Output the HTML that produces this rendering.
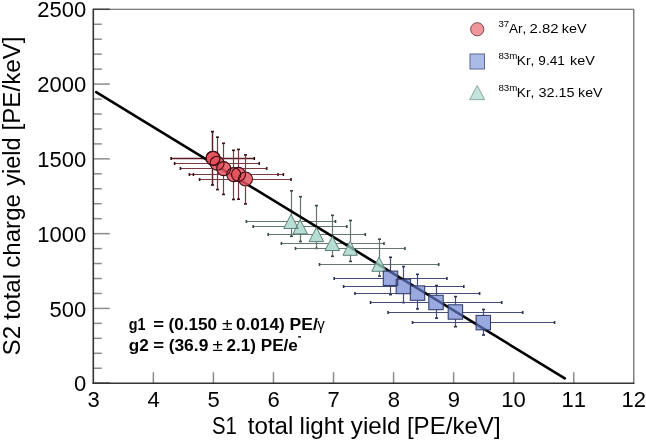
<!DOCTYPE html>
<html><head><meta charset="utf-8"><style>
html,body{margin:0;padding:0;background:#fff;}
svg{display:block;font-family:"Liberation Sans", sans-serif;font-kerning:none;filter:blur(0.4px);}
</style></head><body>
<svg width="646" height="441" viewBox="0 0 646 441" fill="#000">
<rect width="646" height="441" fill="#fff"/>
<line x1="93.3" y1="9.3" x2="633.8" y2="9.3" stroke="#555" stroke-width="1.1"/>
<line x1="633.8" y1="9.3" x2="633.8" y2="383.2" stroke="#555" stroke-width="1.1"/>
<line x1="93.3" y1="383.20" x2="109.8" y2="383.20" stroke="#444" stroke-width="1.5"/>
<line x1="93.3" y1="368.24" x2="101.8" y2="368.24" stroke="#8c8c8c" stroke-width="1.5"/>
<line x1="93.3" y1="353.29" x2="101.8" y2="353.29" stroke="#8c8c8c" stroke-width="1.5"/>
<line x1="93.3" y1="338.33" x2="101.8" y2="338.33" stroke="#8c8c8c" stroke-width="1.5"/>
<line x1="93.3" y1="323.38" x2="101.8" y2="323.38" stroke="#8c8c8c" stroke-width="1.5"/>
<line x1="93.3" y1="308.42" x2="109.8" y2="308.42" stroke="#8c8c8c" stroke-width="1.5"/>
<line x1="93.3" y1="293.46" x2="101.8" y2="293.46" stroke="#8c8c8c" stroke-width="1.5"/>
<line x1="93.3" y1="278.51" x2="101.8" y2="278.51" stroke="#8c8c8c" stroke-width="1.5"/>
<line x1="93.3" y1="263.55" x2="101.8" y2="263.55" stroke="#8c8c8c" stroke-width="1.5"/>
<line x1="93.3" y1="248.60" x2="101.8" y2="248.60" stroke="#8c8c8c" stroke-width="1.5"/>
<line x1="93.3" y1="233.64" x2="109.8" y2="233.64" stroke="#8c8c8c" stroke-width="1.5"/>
<line x1="93.3" y1="218.68" x2="101.8" y2="218.68" stroke="#8c8c8c" stroke-width="1.5"/>
<line x1="93.3" y1="203.73" x2="101.8" y2="203.73" stroke="#8c8c8c" stroke-width="1.5"/>
<line x1="93.3" y1="188.77" x2="101.8" y2="188.77" stroke="#8c8c8c" stroke-width="1.5"/>
<line x1="93.3" y1="173.82" x2="101.8" y2="173.82" stroke="#8c8c8c" stroke-width="1.5"/>
<line x1="93.3" y1="158.86" x2="109.8" y2="158.86" stroke="#8c8c8c" stroke-width="1.5"/>
<line x1="93.3" y1="143.90" x2="101.8" y2="143.90" stroke="#8c8c8c" stroke-width="1.5"/>
<line x1="93.3" y1="128.95" x2="101.8" y2="128.95" stroke="#8c8c8c" stroke-width="1.5"/>
<line x1="93.3" y1="113.99" x2="101.8" y2="113.99" stroke="#8c8c8c" stroke-width="1.5"/>
<line x1="93.3" y1="99.04" x2="101.8" y2="99.04" stroke="#8c8c8c" stroke-width="1.5"/>
<line x1="93.3" y1="84.08" x2="109.8" y2="84.08" stroke="#8c8c8c" stroke-width="1.5"/>
<line x1="93.3" y1="69.12" x2="101.8" y2="69.12" stroke="#8c8c8c" stroke-width="1.5"/>
<line x1="93.3" y1="54.17" x2="101.8" y2="54.17" stroke="#8c8c8c" stroke-width="1.5"/>
<line x1="93.3" y1="39.21" x2="101.8" y2="39.21" stroke="#8c8c8c" stroke-width="1.5"/>
<line x1="93.3" y1="24.26" x2="101.8" y2="24.26" stroke="#8c8c8c" stroke-width="1.5"/>
<line x1="93.3" y1="9.30" x2="109.8" y2="9.30" stroke="#444" stroke-width="1.5"/>
<line x1="153.36" y1="383.2" x2="153.36" y2="372.2" stroke="#8c8c8c" stroke-width="1.5"/>
<line x1="213.41" y1="383.2" x2="213.41" y2="372.2" stroke="#8c8c8c" stroke-width="1.5"/>
<line x1="273.47" y1="383.2" x2="273.47" y2="372.2" stroke="#8c8c8c" stroke-width="1.5"/>
<line x1="333.52" y1="383.2" x2="333.52" y2="372.2" stroke="#8c8c8c" stroke-width="1.5"/>
<line x1="393.58" y1="383.2" x2="393.58" y2="372.2" stroke="#8c8c8c" stroke-width="1.5"/>
<line x1="453.63" y1="383.2" x2="453.63" y2="372.2" stroke="#8c8c8c" stroke-width="1.5"/>
<line x1="513.69" y1="383.2" x2="513.69" y2="372.2" stroke="#8c8c8c" stroke-width="1.5"/>
<line x1="573.74" y1="383.2" x2="573.74" y2="372.2" stroke="#8c8c8c" stroke-width="1.5"/>
<line x1="93.3" y1="8.700000000000001" x2="93.3" y2="383.8" stroke="#333" stroke-width="1.6"/>
<line x1="92.5" y1="383.2" x2="634.4" y2="383.2" stroke="#333" stroke-width="1.6"/>
<text x="74.02" y="391.30" font-size="22">0</text>
<text x="49.55" y="316.52" font-size="22">500</text>
<text x="37.32" y="241.74" font-size="22">1000</text>
<text x="37.32" y="166.96" font-size="22">1500</text>
<text x="37.32" y="92.18" font-size="22">2000</text>
<text x="37.32" y="17.40" font-size="22">2500</text>
<text x="87.45" y="407.20" font-size="22">3</text>
<text x="147.51" y="407.20" font-size="22">4</text>
<text x="207.51" y="407.20" font-size="22">5</text>
<text x="267.47" y="407.20" font-size="22">6</text>
<text x="327.59" y="407.20" font-size="22">7</text>
<text x="387.66" y="407.20" font-size="22">8</text>
<text x="447.72" y="407.20" font-size="22">9</text>
<text x="501.25" y="407.20" font-size="22">10</text>
<text x="561.41" y="407.20" font-size="22">11</text>
<text x="621.48" y="407.20" font-size="22">12</text>
<text transform="translate(212.08,434.00) scale(0.8820,1.0000)" font-size="23" fill="#000" >S1</text>
<text transform="translate(247.83,434.00) scale(1.0484,1.0000)" font-size="23" fill="#000" >total</text>
<text transform="translate(299.57,434.00) scale(1.0525,1.0000)" font-size="23" fill="#000" >light</text>
<text transform="translate(350.84,434.00) scale(1.0510,1.0000)" font-size="23" fill="#000" >yield</text>
<text transform="translate(406.88,434.00) scale(1.0475,1.0000)" font-size="23" fill="#000" >[PE/keV]</text>
<g transform="translate(19.7,354.3) rotate(-90)"><text transform="translate(-1.10,0.00) scale(1.0528,1.0000)" font-size="23" fill="#000" >S2</text><text transform="translate(34.63,0.00) scale(1.0556,1.0000)" font-size="23" fill="#000" >total</text><text transform="translate(86.58,0.00) scale(1.0479,1.0000)" font-size="23" fill="#000" >charge</text><text transform="translate(168.64,0.00) scale(1.0183,1.0000)" font-size="23" fill="#000" >yield</text><text transform="translate(223.77,0.00) scale(1.0521,1.0000)" font-size="23" fill="#000" >[PE/keV]</text></g>
<line x1="171.1" y1="158.5" x2="254.3" y2="158.5" stroke="#5a1e26" stroke-width="1.5"/>
<line x1="212.5" y1="131.6" x2="212.5" y2="185.0" stroke="#5a1e26" stroke-width="1.5"/>
<rect x="170.3" y="157.0" width="1.6" height="3" fill="#2a0a0e"/>
<rect x="253.5" y="157.0" width="1.6" height="3" fill="#2a0a0e"/>
<rect x="211.0" y="130.8" width="3" height="1.6" fill="#2a0a0e"/>
<rect x="211.0" y="184.2" width="3" height="1.6" fill="#2a0a0e"/>
<line x1="174.6" y1="163.5" x2="259.2" y2="163.5" stroke="#7a3a42" stroke-width="1.2"/>
<line x1="217.5" y1="137.2" x2="217.5" y2="189.6" stroke="#7a3a42" stroke-width="1.2"/>
<rect x="173.8" y="162.0" width="1.6" height="3" fill="#3a1015"/>
<rect x="258.4" y="162.0" width="1.6" height="3" fill="#3a1015"/>
<rect x="216.0" y="136.4" width="3" height="1.6" fill="#3a1015"/>
<rect x="216.0" y="188.8" width="3" height="1.6" fill="#3a1015"/>
<line x1="180.4" y1="168.5" x2="266.7" y2="168.5" stroke="#7a3a42" stroke-width="1.2"/>
<line x1="223.5" y1="143.3" x2="223.5" y2="194.4" stroke="#7a3a42" stroke-width="1.2"/>
<rect x="179.6" y="167.0" width="1.6" height="3" fill="#3a1015"/>
<rect x="265.9" y="167.0" width="1.6" height="3" fill="#3a1015"/>
<rect x="222.0" y="142.5" width="3" height="1.6" fill="#3a1015"/>
<rect x="222.0" y="193.6" width="3" height="1.6" fill="#3a1015"/>
<line x1="189.4" y1="174.5" x2="278.0" y2="174.5" stroke="#7a3a42" stroke-width="1.2"/>
<line x1="233.5" y1="150.3" x2="233.5" y2="199.5" stroke="#7a3a42" stroke-width="1.2"/>
<rect x="188.6" y="173.0" width="1.6" height="3" fill="#3a1015"/>
<rect x="277.2" y="173.0" width="1.6" height="3" fill="#3a1015"/>
<rect x="232.0" y="149.5" width="3" height="1.6" fill="#3a1015"/>
<rect x="232.0" y="198.7" width="3" height="1.6" fill="#3a1015"/>
<line x1="193.4" y1="174.5" x2="283.4" y2="174.5" stroke="#7a3a42" stroke-width="1.2"/>
<line x1="238.5" y1="149.4" x2="238.5" y2="199.2" stroke="#7a3a42" stroke-width="1.2"/>
<rect x="192.6" y="173.0" width="1.6" height="3" fill="#3a1015"/>
<rect x="282.6" y="173.0" width="1.6" height="3" fill="#3a1015"/>
<rect x="237.0" y="148.6" width="3" height="1.6" fill="#3a1015"/>
<rect x="237.0" y="198.4" width="3" height="1.6" fill="#3a1015"/>
<line x1="199.6" y1="179.5" x2="291.0" y2="179.5" stroke="#7a3a42" stroke-width="1.2"/>
<line x1="245.5" y1="154.9" x2="245.5" y2="203.9" stroke="#7a3a42" stroke-width="1.2"/>
<rect x="198.8" y="178.0" width="1.6" height="3" fill="#3a1015"/>
<rect x="290.2" y="178.0" width="1.6" height="3" fill="#3a1015"/>
<rect x="244.0" y="154.1" width="3" height="1.6" fill="#3a1015"/>
<rect x="244.0" y="203.1" width="3" height="1.6" fill="#3a1015"/>
<line x1="246.4" y1="221.5" x2="335.5" y2="221.5" stroke="#62786f" stroke-width="1.2"/>
<line x1="291.5" y1="190.8" x2="291.5" y2="236.3" stroke="#62786f" stroke-width="1.2"/>
<rect x="245.6" y="220.0" width="1.6" height="3" fill="#3a4644"/>
<rect x="334.7" y="220.0" width="1.6" height="3" fill="#3a4644"/>
<rect x="290.0" y="190.0" width="3" height="1.6" fill="#3a4644"/>
<rect x="290.0" y="235.5" width="3" height="1.6" fill="#3a4644"/>
<line x1="253.2" y1="226.5" x2="346.8" y2="226.5" stroke="#62786f" stroke-width="1.2"/>
<line x1="300.5" y1="196.7" x2="300.5" y2="241.5" stroke="#62786f" stroke-width="1.2"/>
<rect x="252.4" y="225.0" width="1.6" height="3" fill="#3a4644"/>
<rect x="346.0" y="225.0" width="1.6" height="3" fill="#3a4644"/>
<rect x="299.0" y="195.9" width="3" height="1.6" fill="#3a4644"/>
<rect x="299.0" y="240.7" width="3" height="1.6" fill="#3a4644"/>
<line x1="268.2" y1="234.5" x2="365.3" y2="234.5" stroke="#62786f" stroke-width="1.2"/>
<line x1="316.5" y1="205.6" x2="316.5" y2="248.4" stroke="#62786f" stroke-width="1.2"/>
<rect x="267.4" y="233.0" width="1.6" height="3" fill="#3a4644"/>
<rect x="364.5" y="233.0" width="1.6" height="3" fill="#3a4644"/>
<rect x="315.0" y="204.8" width="3" height="1.6" fill="#3a4644"/>
<rect x="315.0" y="247.6" width="3" height="1.6" fill="#3a4644"/>
<line x1="281.4" y1="243.5" x2="384.0" y2="243.5" stroke="#62786f" stroke-width="1.2"/>
<line x1="332.5" y1="215.3" x2="332.5" y2="256.3" stroke="#62786f" stroke-width="1.2"/>
<rect x="280.6" y="242.0" width="1.6" height="3" fill="#3a4644"/>
<rect x="383.2" y="242.0" width="1.6" height="3" fill="#3a4644"/>
<rect x="331.0" y="214.5" width="3" height="1.6" fill="#3a4644"/>
<rect x="331.0" y="255.5" width="3" height="1.6" fill="#3a4644"/>
<line x1="295.5" y1="248.5" x2="404.9" y2="248.5" stroke="#62786f" stroke-width="1.2"/>
<line x1="350.5" y1="220.5" x2="350.5" y2="261.4" stroke="#62786f" stroke-width="1.2"/>
<rect x="294.7" y="247.0" width="1.6" height="3" fill="#3a4644"/>
<rect x="404.1" y="247.0" width="1.6" height="3" fill="#3a4644"/>
<rect x="349.0" y="219.7" width="3" height="1.6" fill="#3a4644"/>
<rect x="349.0" y="260.6" width="3" height="1.6" fill="#3a4644"/>
<line x1="319.5" y1="264.5" x2="438.7" y2="264.5" stroke="#62786f" stroke-width="1.2"/>
<line x1="379.5" y1="239.2" x2="379.5" y2="276.1" stroke="#62786f" stroke-width="1.2"/>
<rect x="318.7" y="263.0" width="1.6" height="3" fill="#3a4644"/>
<rect x="437.9" y="263.0" width="1.6" height="3" fill="#3a4644"/>
<rect x="378.0" y="238.4" width="3" height="1.6" fill="#3a4644"/>
<rect x="378.0" y="275.3" width="3" height="1.6" fill="#3a4644"/>
<line x1="334.2" y1="278.5" x2="446.9" y2="278.5" stroke="#454d7c" stroke-width="1.2"/>
<line x1="390.5" y1="257.3" x2="390.5" y2="294.6" stroke="#454d7c" stroke-width="1.2"/>
<rect x="333.4" y="277.0" width="1.6" height="3" fill="#2a3050"/>
<rect x="446.1" y="277.0" width="1.6" height="3" fill="#2a3050"/>
<rect x="389.0" y="256.5" width="3" height="1.6" fill="#2a3050"/>
<rect x="389.0" y="293.8" width="3" height="1.6" fill="#2a3050"/>
<line x1="343.6" y1="286.5" x2="463.8" y2="286.5" stroke="#454d7c" stroke-width="1.2"/>
<line x1="403.5" y1="266.6" x2="403.5" y2="302.6" stroke="#454d7c" stroke-width="1.2"/>
<rect x="342.8" y="285.0" width="1.6" height="3" fill="#2a3050"/>
<rect x="463.0" y="285.0" width="1.6" height="3" fill="#2a3050"/>
<rect x="402.0" y="265.8" width="3" height="1.6" fill="#2a3050"/>
<rect x="402.0" y="301.8" width="3" height="1.6" fill="#2a3050"/>
<line x1="355.0" y1="293.5" x2="479.6" y2="293.5" stroke="#454d7c" stroke-width="1.2"/>
<line x1="417.5" y1="274.3" x2="417.5" y2="308.9" stroke="#454d7c" stroke-width="1.2"/>
<rect x="354.2" y="292.0" width="1.6" height="3" fill="#2a3050"/>
<rect x="478.8" y="292.0" width="1.6" height="3" fill="#2a3050"/>
<rect x="416.0" y="273.5" width="3" height="1.6" fill="#2a3050"/>
<rect x="416.0" y="308.1" width="3" height="1.6" fill="#2a3050"/>
<line x1="370.5" y1="302.5" x2="501.7" y2="302.5" stroke="#454d7c" stroke-width="1.2"/>
<line x1="436.5" y1="285.5" x2="436.5" y2="318.2" stroke="#454d7c" stroke-width="1.2"/>
<rect x="369.7" y="301.0" width="1.6" height="3" fill="#2a3050"/>
<rect x="500.9" y="301.0" width="1.6" height="3" fill="#2a3050"/>
<rect x="435.0" y="284.7" width="3" height="1.6" fill="#2a3050"/>
<rect x="435.0" y="317.4" width="3" height="1.6" fill="#2a3050"/>
<line x1="388.1" y1="312.5" x2="522.7" y2="312.5" stroke="#454d7c" stroke-width="1.2"/>
<line x1="455.5" y1="296.6" x2="455.5" y2="326.7" stroke="#454d7c" stroke-width="1.2"/>
<rect x="387.3" y="311.0" width="1.6" height="3" fill="#2a3050"/>
<rect x="521.9" y="311.0" width="1.6" height="3" fill="#2a3050"/>
<rect x="454.0" y="295.8" width="3" height="1.6" fill="#2a3050"/>
<rect x="454.0" y="325.9" width="3" height="1.6" fill="#2a3050"/>
<line x1="412.5" y1="322.5" x2="554.6" y2="322.5" stroke="#454d7c" stroke-width="1.2"/>
<line x1="483.5" y1="309.4" x2="483.5" y2="335.0" stroke="#454d7c" stroke-width="1.2"/>
<rect x="411.7" y="321.0" width="1.6" height="3" fill="#2a3050"/>
<rect x="553.8" y="321.0" width="1.6" height="3" fill="#2a3050"/>
<rect x="482.0" y="308.6" width="3" height="1.6" fill="#2a3050"/>
<rect x="482.0" y="334.2" width="3" height="1.6" fill="#2a3050"/>
<polygon points="291.0,214.3 298.2,228.5 283.8,228.5" fill="#fff" stroke="none" stroke-width="1" stroke-linejoin="miter" />
<polygon points="300.1,219.7 307.4,233.9 292.9,233.9" fill="#fff" stroke="none" stroke-width="1" stroke-linejoin="miter" />
<polygon points="316.4,227.4 323.6,241.6 309.1,241.6" fill="#fff" stroke="none" stroke-width="1" stroke-linejoin="miter" />
<polygon points="332.4,236.3 339.6,250.5 325.1,250.5" fill="#fff" stroke="none" stroke-width="1" stroke-linejoin="miter" />
<polygon points="350.2,241.1 357.4,255.3 342.9,255.3" fill="#fff" stroke="none" stroke-width="1" stroke-linejoin="miter" />
<polygon points="379.0,257.1 386.2,271.3 371.8,271.3" fill="#fff" stroke="none" stroke-width="1" stroke-linejoin="miter" />
<circle cx="212.9" cy="158.2" r="7.4" fill="#fff"/>
<circle cx="213.1" cy="158.4" r="7.4" fill="#fff"/>
<circle cx="217.1" cy="163.2" r="7.4" fill="#fff"/>
<circle cx="223.7" cy="168.6" r="7.4" fill="#fff"/>
<circle cx="233.7" cy="174.6" r="7.4" fill="#fff"/>
<circle cx="238.5" cy="174.4" r="7.4" fill="#fff"/>
<circle cx="245.5" cy="179.0" r="7.4" fill="#fff"/>
<rect x="383.3" y="271.1" width="14.4" height="14.4" fill="#fff"/>
<rect x="396.2" y="279.3" width="14.4" height="14.4" fill="#fff"/>
<rect x="410.3" y="285.9" width="14.4" height="14.4" fill="#fff"/>
<rect x="428.8" y="295.3" width="14.4" height="14.4" fill="#fff"/>
<rect x="448.2" y="304.8" width="14.4" height="14.4" fill="#fff"/>
<rect x="476.1" y="315.4" width="14.4" height="14.4" fill="#fff"/>
<polyline points="96.2,92.2 564.8,378.3" fill="none" stroke="#000" stroke-width="2.6" stroke-linecap="round"/>
<polygon points="291.0,214.3 298.2,228.5 283.8,228.5" fill="#9ed3c6" stroke="none" stroke-width="1" stroke-linejoin="miter" fill-opacity="0.75"/>
<polygon points="300.1,219.7 307.4,233.9 292.9,233.9" fill="#9ed3c6" stroke="none" stroke-width="1" stroke-linejoin="miter" fill-opacity="0.75"/>
<polygon points="316.4,227.4 323.6,241.6 309.1,241.6" fill="#9ed3c6" stroke="none" stroke-width="1" stroke-linejoin="miter" fill-opacity="0.75"/>
<polygon points="332.4,236.3 339.6,250.5 325.1,250.5" fill="#9ed3c6" stroke="none" stroke-width="1" stroke-linejoin="miter" fill-opacity="0.75"/>
<polygon points="350.2,241.1 357.4,255.3 342.9,255.3" fill="#9ed3c6" stroke="none" stroke-width="1" stroke-linejoin="miter" fill-opacity="0.75"/>
<polygon points="379.0,257.1 386.2,271.3 371.8,271.3" fill="#9ed3c6" stroke="none" stroke-width="1" stroke-linejoin="miter" fill-opacity="0.75"/>
<polygon points="291.0,214.3 298.2,228.5 283.8,228.5" fill="none" stroke="#5f807a" stroke-width="1" stroke-linejoin="miter" />
<polygon points="300.1,219.7 307.4,233.9 292.9,233.9" fill="none" stroke="#5f807a" stroke-width="1" stroke-linejoin="miter" />
<polygon points="316.4,227.4 323.6,241.6 309.1,241.6" fill="none" stroke="#5f807a" stroke-width="1" stroke-linejoin="miter" />
<polygon points="332.4,236.3 339.6,250.5 325.1,250.5" fill="none" stroke="#5f807a" stroke-width="1" stroke-linejoin="miter" />
<polygon points="350.2,241.1 357.4,255.3 342.9,255.3" fill="none" stroke="#5f807a" stroke-width="1" stroke-linejoin="miter" />
<polygon points="379.0,257.1 386.2,271.3 371.8,271.3" fill="none" stroke="#5f807a" stroke-width="1" stroke-linejoin="miter" />
<circle cx="212.9" cy="158.2" r="7.0" fill="#e4505c" fill-opacity="0.85"/>
<circle cx="213.1" cy="158.4" r="7.0" fill="#e4505c" fill-opacity="0.85"/>
<circle cx="217.1" cy="163.2" r="7.0" fill="#e4505c" fill-opacity="0.85"/>
<circle cx="223.7" cy="168.6" r="7.0" fill="#e4505c" fill-opacity="0.85"/>
<circle cx="233.7" cy="174.6" r="7.0" fill="#e4505c" fill-opacity="0.85"/>
<circle cx="238.5" cy="174.4" r="7.0" fill="#e4505c" fill-opacity="0.85"/>
<circle cx="245.5" cy="179.0" r="7.0" fill="#e4505c" fill-opacity="0.85"/>
<circle cx="212.9" cy="158.2" r="7.0" fill="none" stroke="#3a0c12" stroke-width="1.1"/>
<circle cx="213.1" cy="158.4" r="7.0" fill="none" stroke="#3a0c12" stroke-width="1.1"/>
<circle cx="217.1" cy="163.2" r="7.0" fill="none" stroke="#3a0c12" stroke-width="1.1"/>
<circle cx="223.7" cy="168.6" r="7.0" fill="none" stroke="#3a0c12" stroke-width="1.1"/>
<circle cx="233.7" cy="174.6" r="7.0" fill="none" stroke="#3a0c12" stroke-width="1.1"/>
<circle cx="238.5" cy="174.4" r="7.0" fill="none" stroke="#3a0c12" stroke-width="1.1"/>
<circle cx="245.5" cy="179.0" r="7.0" fill="none" stroke="#3a0c12" stroke-width="1.1"/>
<rect x="383.3" y="271.1" width="14.4" height="14.4" fill="#687fd1" fill-opacity="0.67"/>
<rect x="396.2" y="279.3" width="14.4" height="14.4" fill="#687fd1" fill-opacity="0.67"/>
<rect x="410.3" y="285.9" width="14.4" height="14.4" fill="#687fd1" fill-opacity="0.67"/>
<rect x="428.8" y="295.3" width="14.4" height="14.4" fill="#687fd1" fill-opacity="0.67"/>
<rect x="448.2" y="304.8" width="14.4" height="14.4" fill="#687fd1" fill-opacity="0.67"/>
<rect x="476.1" y="315.4" width="14.4" height="14.4" fill="#687fd1" fill-opacity="0.67"/>
<rect x="383.3" y="271.1" width="14.4" height="14.4" fill="none" stroke="#34406c" stroke-width="1.1"/>
<rect x="396.2" y="279.3" width="14.4" height="14.4" fill="none" stroke="#34406c" stroke-width="1.1"/>
<rect x="410.3" y="285.9" width="14.4" height="14.4" fill="none" stroke="#34406c" stroke-width="1.1"/>
<rect x="428.8" y="295.3" width="14.4" height="14.4" fill="none" stroke="#34406c" stroke-width="1.1"/>
<rect x="448.2" y="304.8" width="14.4" height="14.4" fill="none" stroke="#34406c" stroke-width="1.1"/>
<rect x="476.1" y="315.4" width="14.4" height="14.4" fill="none" stroke="#34406c" stroke-width="1.1"/>
<text transform="translate(128.81,329.60) scale(0.8992,1.0000)" font-size="16" font-weight="bold" fill="#000" >g1</text>
<text transform="translate(153.23,329.60) scale(1.1591,1.0000)" font-size="16" font-weight="bold" fill="#000" >=</text>
<text transform="translate(168.44,329.60) scale(1.0748,1.0000)" font-size="16" font-weight="bold" fill="#000" >(0.150</text>
<text transform="translate(221.99,329.60) scale(1.1964,1.0000)" font-size="16" fill="#000" >±</text>
<text transform="translate(235.92,329.60) scale(1.0765,1.0000)" font-size="16" font-weight="bold" fill="#000" >0.014)</text>
<text transform="translate(289.53,329.60) scale(1.0952,1.0000)" font-size="16" font-weight="bold" fill="#000" >PE/</text>
<text transform="translate(317.35,329.60) scale(0.9378,1.0000)" font-size="16" fill="#000" >γ</text>
<text transform="translate(128.70,350.60) scale(1.0705,1.0000)" font-size="16" font-weight="bold" fill="#000" >g2</text>
<text transform="translate(153.23,350.60) scale(1.1591,1.0000)" font-size="16" font-weight="bold" fill="#000" >=</text>
<text transform="translate(168.63,350.60) scale(1.0890,1.0000)" font-size="16" font-weight="bold" fill="#000" >(36.9</text>
<text transform="translate(212.40,350.60) scale(1.1835,1.0000)" font-size="16" fill="#000" >±</text>
<text transform="translate(226.61,350.60) scale(1.0679,1.0000)" font-size="16" font-weight="bold" fill="#000" >2.1)</text>
<text transform="translate(260.76,350.60) scale(1.0674,1.0000)" font-size="16" font-weight="bold" fill="#000" >PE/e</text>
<rect x="298.1" y="336.2" width="2.9" height="1.4" fill="#000"/>
<circle cx="477.25" cy="29.25" r="6.6" fill="#f0959b" stroke="#7a484c" stroke-width="1"/>
<rect x="470.0" y="54.0" width="14.5" height="15" fill="#a9bbe6" stroke="#5a6890" stroke-width="1"/>
<polygon points="477.2,85.5 484.7,99.7 469.7,99.7" fill="#c5e3dd" stroke="#8aa8a2" stroke-width="1" stroke-linejoin="miter" />
<text transform="translate(498.43,26.60) scale(1.0743,1.0000)" font-size="9.0" fill="#000" >37</text>
<text transform="translate(508.97,33.00)" font-size="13.5" fill="#000" >Ar,</text>
<text transform="translate(529.55,33.00) scale(1.1037,1.0000)" font-size="13.5" fill="#000" >2.82</text>
<text transform="translate(561.83,33.00) scale(1.0631,1.0000)" font-size="13.5" fill="#000" >keV</text>
<text transform="translate(498.38,58.80) scale(1.0833,1.0000)" font-size="9.0" fill="#000" >83m</text>
<text transform="translate(516.87,64.90) scale(1.0181,1.0000)" font-size="13.5" fill="#000" >Kr,</text>
<text transform="translate(538.36,64.90) scale(1.0047,1.0000)" font-size="13.5" fill="#000" >9.41</text>
<text transform="translate(570.03,64.90) scale(1.0676,1.0000)" font-size="13.5" fill="#000" >keV</text>
<text transform="translate(498.38,90.50) scale(1.0833,1.0000)" font-size="9.0" fill="#000" >83m</text>
<text transform="translate(516.87,96.80) scale(1.0181,1.0000)" font-size="13.5" fill="#000" >Kr,</text>
<text transform="translate(538.45,96.80) scale(1.0703,1.0000)" font-size="13.5" fill="#000" >32.15</text>
<text transform="translate(578.04,96.80) scale(1.0541,1.0000)" font-size="13.5" fill="#000" >keV</text>
</svg>
</body></html>
